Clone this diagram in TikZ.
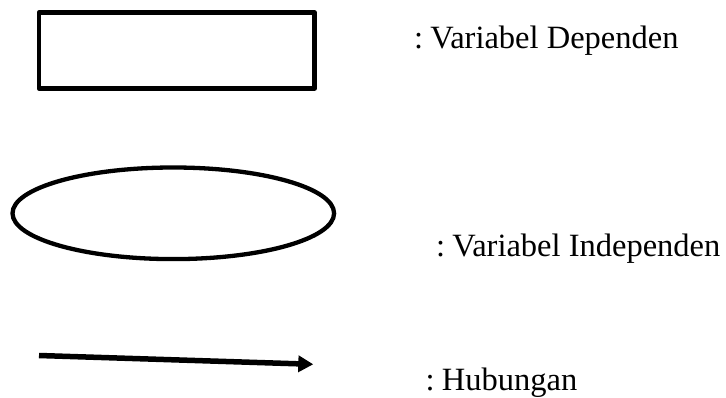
\documentclass[tikz,border=0pt]{standalone}
\usepackage{fontspec}
\setmainfont{Liberation Serif}
\usepackage{tikz}
\usetikzlibrary{shapes,shapes.geometric,arrows,arrows.meta,positioning}

\begin{document}
\begin{tikzpicture}[x=1pt, y=-1pt]
			\tikzstyle{Dep} 	= [rectangle, draw, line width=4.7pt, line join=round, minimum width=275.5pt, minimum height=75.8pt, inner sep=0pt]
			\tikzstyle{Indep}	= [ellipse, draw, line width=4.3pt, minimum width=321.6pt, minimum height=91.6pt, inner sep=0pt]
			\tikzstyle{Rel}		= [line width=5.5pt, -{Triangle[length=15pt, width=16pt]}]
			\tikzstyle{Ket}		= [anchor=base west, inner sep=0pt, font=\fontsize{32.5}{38}\selectfont]

			\useasboundingbox (0,0) rectangle (726,398);

			\node (dep) at (176.75, 50.4) [Dep] {};
			\node (indep) at (173.3, 213.3) [Indep] {};
			\coordinate (h1) at (39, 355.5);
			\coordinate (h2) at (313.3, 364.3);

			\node (kdep) at (414, 49) [Ket] {:\hspace{0.22em}Variabel Dependen};
			\node (kindep) at (436, 257) [Ket] {:\hspace{0.22em}Variabel Independen};
			\node (khub) at (425.5, 390) [Ket] {:\hspace{0.22em}Hubungan};

			\draw (h1) to (h2) [Rel];
		\end{tikzpicture}
\end{document}
